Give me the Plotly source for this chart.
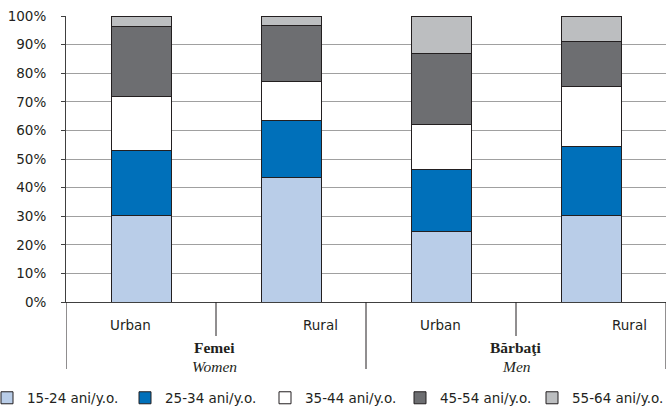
import plotly.graph_objects as go

# ---- data ----
categories = ["Urban", "Rural", "Urban", "Rural"]
groups = ["Femei", "Bărbaţi"]
groups_en = ["Women", "Men"]
series_names = ["15-24 ani/y.o.", "25-34 ani/y.o.", "35-44 ani/y.o.", "45-54 ani/y.o.", "55-64 ani/y.o."]
age_15_24 = [30.1, 43.5, 24.6, 30.1]
age_25_34 = [22.7, 20.1, 21.8, 24.3]
age_35_44 = [18.9, 13.6, 15.8, 21.0]
age_45_54 = [24.8, 19.4, 24.6, 15.6]
age_55_64 = [3.5, 3.4, 13.2, 9.0]
y_ticks = [0, 10, 20, 30, 40, 50, 60, 70, 80, 90, 100]
y_tick_labels = [f"{v}%" for v in y_ticks]

series_values = [age_15_24, age_25_34, age_35_44, age_45_54, age_55_64]
colors = ["#B9CDE8", "#0070BA", "#FFFFFF", "#6D6E71", "#BCBEC0"]

SANS = "DejaVu Sans"
SERIF = "Liberation Serif"
TXT = "#231F20"

x_pos = [i + 0.5 for i in range(len(categories))]

L, R, T, B = 66, 3, 16, 104
W, H = 669, 406
PW = W - L - R
PH = H - T - B

def py(px_below):
    return -px_below / PH

def px_to_paper_x(px):
    return (px - L) / PW

fig = go.Figure()
legend_names = ["legend", "legend2", "legend3", "legend4", "legend5"]
for name, vals, col, lg in zip(series_names, series_values, colors, legend_names):
    fig.add_trace(go.Bar(
        x=x_pos, y=vals, name=name, width=0.4, legend=lg,
        marker=dict(color=col, line=dict(color=TXT, width=1)),
    ))

shapes = []
for xv in [1, 3]:
    shapes.append(dict(type="line", xref="x", yref="paper", x0=xv, x1=xv,
                       y0=0, y1=py(34), line=dict(color=TXT, width=1)))
for xv in [0, 2, 4]:
    shapes.append(dict(type="line", xref="x", yref="paper", x0=xv, x1=xv,
                       y0=0, y1=py(67), line=dict(color=TXT, width=1)))

annotations = []
cat_px = [130, 320, 440, 629]
for lbl, px in zip(categories, cat_px):
    annotations.append(dict(text=lbl, x=(px - L) / 150.0, xref="x", y=py(23), yref="paper",
                            showarrow=False, xanchor="center", yanchor="middle",
                            font=dict(family=SANS, size=13.5, color=TXT)))
grp_px = [214, 516]
for g, ge, px in zip(groups, groups_en, grp_px):
    annotations.append(dict(text="<b>" + g + "</b>", x=(px - L) / 150.0, xref="x", y=py(45), yref="paper",
                            showarrow=False, xanchor="center", yanchor="middle",
                            font=dict(family=SERIF, size=15.5, color=TXT)))
    annotations.append(dict(text="<i>" + ge + "</i>", x=(px - L) / 150.0, xref="x", y=py(64), yref="paper",
                            showarrow=False, xanchor="center", yanchor="middle",
                            font=dict(family=SERIF, size=15.5, color=TXT)))

legend_text_px = [28, 166, 306, 441, 573]
legend_layouts = {}
for lg, tpx in zip(legend_names, legend_text_px):
    legend_layouts[lg] = dict(
        orientation="h", x=px_to_paper_x(tpx - 41), xanchor="left",
        y=py(96), yanchor="middle",
        font=dict(family=SANS, size=13.5, color=TXT),
        bgcolor="rgba(0,0,0,0)", itemwidth=30,
    )

fig.update_layout(
    barmode="stack",
    width=W, height=H,
    margin=dict(l=L, r=R, t=T, b=B, autoexpand=False),
    paper_bgcolor="white", plot_bgcolor="white",
    showlegend=True,
    xaxis=dict(range=[0, 4], showticklabels=False, showgrid=False, zeroline=False,
               showline=True, linecolor="#404040", linewidth=1, ticks=""),
    yaxis=dict(range=[0, 100], tickvals=y_ticks, ticktext=y_tick_labels, showgrid=True,
               gridcolor="#A0A0A0", gridwidth=1.2, zeroline=False,
               showline=True, linecolor="#404040", linewidth=1,
               ticks="outside", ticklen=4, tickcolor="#404040",
               ticklabelstandoff=12,
               tickfont=dict(family=SANS, size=13.5, color=TXT)),
    shapes=shapes,
    annotations=annotations,
    font=dict(family=SANS),
    **legend_layouts,
)

fig.write_html("out.html",
               config={"displayModeBar": False},
               post_script="document.body.style.margin='0';document.body.style.overflow='hidden';")
